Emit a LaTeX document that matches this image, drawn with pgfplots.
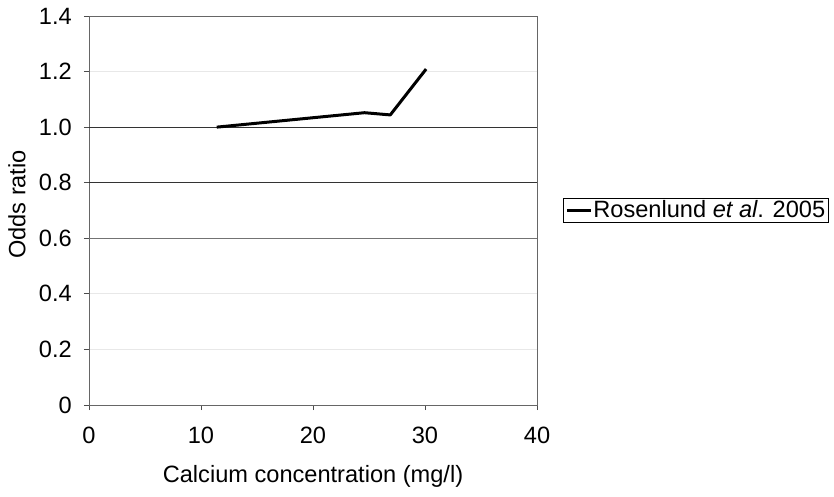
\documentclass[border=0pt]{standalone}
\usepackage{pgfplots}
\pgfplotsset{compat=1.18}
\usepackage{fontspec}
\setmainfont{Liberation Sans}
\newcommand{\bigf}{\fontsize{23.6pt}{28pt}\selectfont}
\begin{document}
\bigf
\begin{tikzpicture}
\begin{axis}[
  name=ax,
  at={(0pt,0pt)}, anchor=south west,
  scale only axis,
  width=448pt, height=389pt,
  xmin=0, xmax=40, ymin=0, ymax=1.4,
  xtick={0,10,20,30,40},
  xticklabels={0,10,20,30,40},
  ytick={0,0.2,0.4,0.6,0.8,1.0,1.2,1.4},
  yticklabels={0,0.2,0.4,0.6,0.8,1.0,1.2,1.4},
  axis line style={black!60, line width=0.8pt},
  tick style={black!70, line width=0.8pt},
  tick align=outside,
  major tick length=5pt,
  xtick pos=bottom, ytick pos=left,
  ymajorgrids,
  grid style={black!9, line width=0.8pt},
  every tick label/.append style={font=\bigf, inner sep=0pt},
  every y tick label/.append style={xshift=-12pt},
  every x tick label/.append style={yshift=-17pt},
  xlabel={Calcium concentration (mg/l)},
  ylabel={Odds ratio},
  xlabel style={font=\bigf, at={(axis description cs:0.5,0)}, anchor=center, yshift=-71pt},
  ylabel style={font=\bigf, at={(axis description cs:0,0.5)}, anchor=center, yshift=72pt, xshift=6pt},
  legend style={at={(axis description cs:1.058,0.5)}, anchor=west, draw=black, line width=0.8pt,
    font=\bigf, inner xsep=2pt, inner ysep=1pt,
    nodes={inner sep=1pt}},
  legend image code/.code={\draw[line width=3pt, black] (0pt,0pt) -- (24pt,0pt);},
  clip=false,
]
\draw[black!80, line width=0.9pt] (axis cs:0,1.0) -- (axis cs:40,1.0);
\draw[black!80, line width=0.9pt] (axis cs:0,0.8) -- (axis cs:40,0.8);
\draw[black!55, line width=0.9pt] (axis cs:0,0.6) -- (axis cs:40,0.6);
\addplot[black, line width=3pt, line join=round] coordinates {
  (11.4,1.0) (24.6,1.052) (26.9,1.044) (30.1,1.209)
};
\addlegendentry{Rosenlund \textit{et al}. 2005}
\end{axis}
\path ([shift={(-89pt,-91pt)}]ax.south west) rectangle ([shift={(745pt,405pt)}]ax.south west);
\end{tikzpicture}
\end{document}
